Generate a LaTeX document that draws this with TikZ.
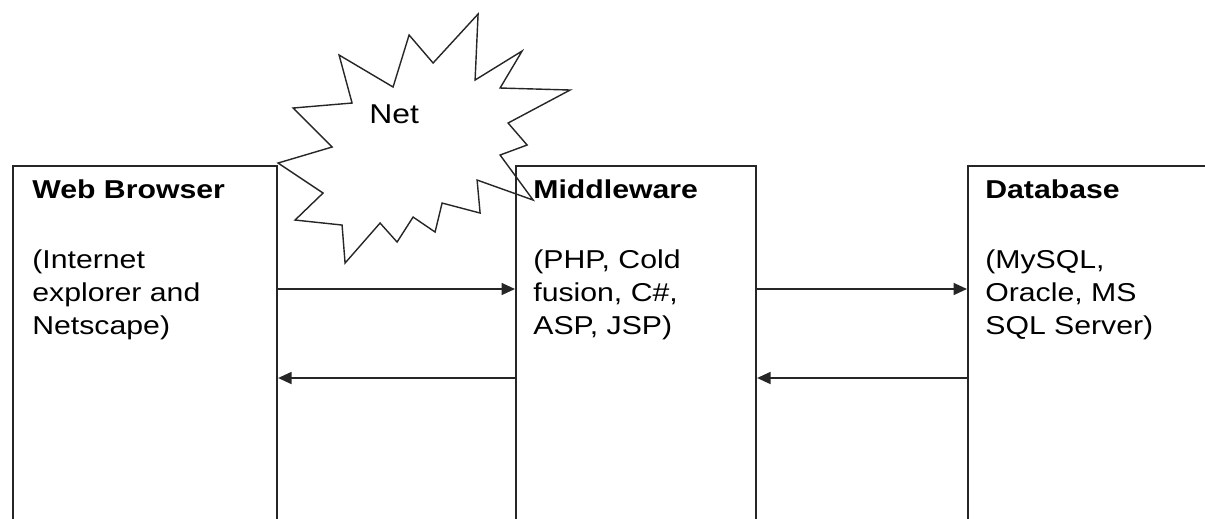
\documentclass[tikz,border=0pt]{standalone}
\usepackage{fontspec}
\setmainfont{Liberation Sans}[FakeStretch=1.17]
\usetikzlibrary{positioning,arrows.meta,calc}

\begin{document}
\begin{tikzpicture}[
  tier/.style={draw=black!85, line width=1.2pt, rectangle, anchor=north west,
    minimum height=7.6cm, inner sep=0pt},
  tiername/.style={anchor=base west, inner sep=0pt,
    font=\fontsize{14.7}{19}\selectfont\bfseries},
  tierinfo/.style={anchor=north west, align=left, inner sep=0pt,
    font=\fontsize{14.7}{19}\selectfont},
  arr/.style={-{Triangle[length=0.27cm, width=0.24cm]}, line width=1pt, black!85},
  cloud/.style={draw=black!85, line width=0.8pt, fill=white, line join=miter}
]

\useasboundingbox (0,0) rectangle (24.1,-10.36);
\clip (0,0) rectangle (24.1,-10.36);

% Net cloud (burst), pixel units
\begin{scope}[x=0.02cm, y=-0.02cm]
\draw[cloud] (278,163) -- (323,193) -- (295,220) -- (342,225) -- (345,263)
  -- (380,223) -- (397,242) -- (413,217) -- (435,232) -- (442,203)
  -- (480,213) -- (477,180) -- (533,200) -- (500,155) -- (527,145)
  -- (508,123) -- (570,90) -- (500,88) -- (522,51) -- (475,80)
  -- (478,14) -- (433,63) -- (409,35) -- (393,87) -- (339,55)
  -- (352,103) -- (293,108) -- (332,147) -- cycle;
\node[font=\fontsize{15.5}{19}\selectfont, anchor=base, inner sep=0pt]
  (net) at (394,123) {Net};
\end{scope}

% Three tiers
\node[tier, minimum width=5.28cm] (browser) at (0.24,-3.30) {};
\node[tier, minimum width=4.80cm] (middle) at (10.30,-3.30) {};
\node[tier, minimum width=4.77cm] (dbase) at (19.34,-3.30) {};

% Tier texts
\node[tiername] (browsername) at ($(browser.north west)+(0.40,-0.66)$) {Web Browser};
\node[tierinfo] (browserinfo) at ($(browser.north west)+(0.40,-1.68)$)
  {(Internet\\explorer and\\Netscape)};
\node[tiername] (middlename) at ($(middle.north west)+(0.36,-0.66)$) {Middleware};
\node[tierinfo] (middleinfo) at ($(middle.north west)+(0.36,-1.68)$)
  {(PHP, Cold\\fusion, C\#,\\ASP, JSP)};
\node[tiername] (dbasename) at ($(dbase.north west)+(0.36,-0.66)$) {Database};
\node[tierinfo] (dbaseinfo) at ($(dbase.north west)+(0.36,-1.68)$)
  {(MySQL,\\Oracle, MS\\SQL Server)};

% Requests and replies
\draw[arr] ($(browser.north east)+(0,-2.48)$) -- ($(middle.north west)+(0,-2.48)$);
\draw[arr] ($(middle.north west)+(0,-4.26)$) -- ($(browser.north east)+(0,-4.26)$);
\draw[arr] ($(middle.north east)+(0,-2.48)$) -- ($(dbase.north west)+(0,-2.48)$);
\draw[arr] ($(dbase.north west)+(0,-4.26)$) -- ($(middle.north east)+(0,-4.26)$);

\end{tikzpicture}
\end{document}
